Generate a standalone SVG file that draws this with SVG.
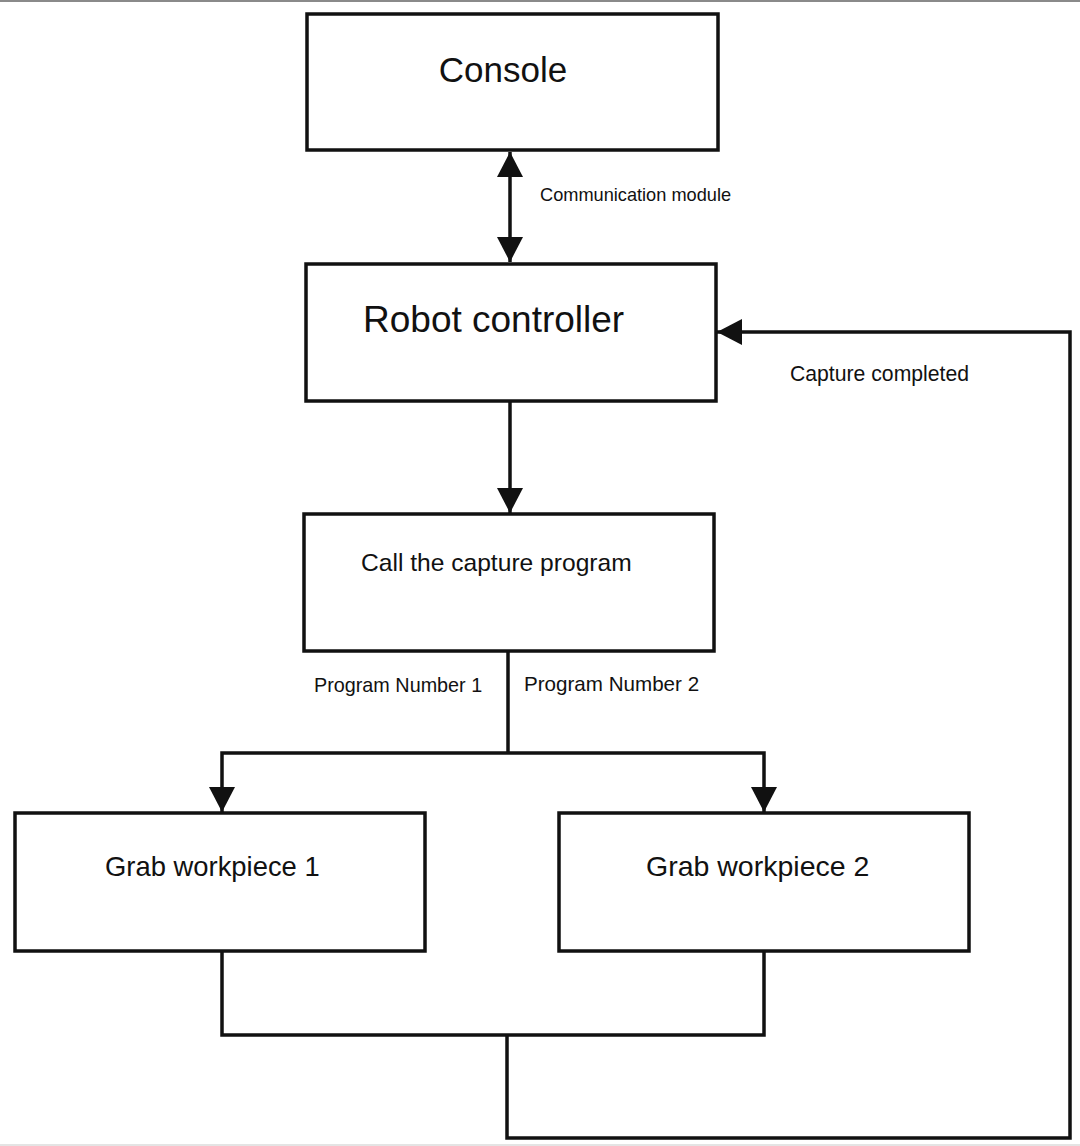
<svg xmlns="http://www.w3.org/2000/svg" width="1080" height="1146" viewBox="0 0 1080 1146">
<style>
.box{fill:#fff;stroke:#111;stroke-width:3.5}
.ln{fill:none;stroke:#111;stroke-width:3.5}
text{font-family:"Liberation Sans","Noto Sans",Arial,sans-serif;fill:#111}
</style>
<defs>
<marker id="ah" markerUnits="userSpaceOnUse" viewBox="0 0 25 26" markerWidth="25" markerHeight="26" refX="25" refY="13" orient="auto-start-reverse">
<path d="M0,0 L25,13 L0,26 z" fill="#111"/>
</marker>
</defs>
<rect x="0" y="0" width="1080" height="1146" fill="#fff"/>
<rect x="0" y="0" width="1080" height="2" fill="#8a8a8a"/>
<rect x="0" y="1144" width="1080" height="2" fill="#e4e4e4"/>
<g id="connectors">
<line class="ln" x1="510" y1="152" x2="510" y2="262" marker-start="url(#ah)" marker-end="url(#ah)"/>
<line class="ln" x1="510" y1="401" x2="510" y2="513" marker-end="url(#ah)"/>
<polyline class="ln" points="508,651 508,753"/>
<polyline class="ln" points="508,753 222,753 222,812" marker-end="url(#ah)"/>
<polyline class="ln" points="508,753 764,753 764,812" marker-end="url(#ah)"/>
<polyline class="ln" points="222,951 222,1035 764,1035 764,951"/>
<polyline class="ln" points="507,1035 507,1138 1070,1138 1070,332 717,332" marker-end="url(#ah)"/>
</g>
<g id="console">
<rect class="box" x="307" y="14" width="411" height="136"/>
<text x="503" y="82" font-size="35" text-anchor="middle">Console</text>
</g>
<g id="robot-controller">
<rect class="box" x="306" y="264" width="410" height="137"/>
<text x="363" y="332" font-size="37">Robot controller</text>
</g>
<g id="call-capture">
<rect class="box" x="304" y="514" width="410" height="137"/>
<text x="361" y="571" font-size="24.6">Call the capture program</text>
</g>
<g id="grab-1">
<rect class="box" x="15" y="813" width="410" height="138"/>
<text x="105" y="876" font-size="27.4">Grab workpiece 1</text>
</g>
<g id="grab-2">
<rect class="box" x="559" y="813" width="410" height="138"/>
<text x="646" y="876" font-size="28.5">Grab workpiece 2</text>
</g>
<g id="labels">
<text x="540" y="201" font-size="18.2">Communication module</text>
<text x="790" y="381" font-size="21.2">Capture completed</text>
<text x="314" y="692" font-size="19.8">Program Number 1</text>
<text x="524" y="691" font-size="20.6">Program Number 2</text>
</g>
</svg>
